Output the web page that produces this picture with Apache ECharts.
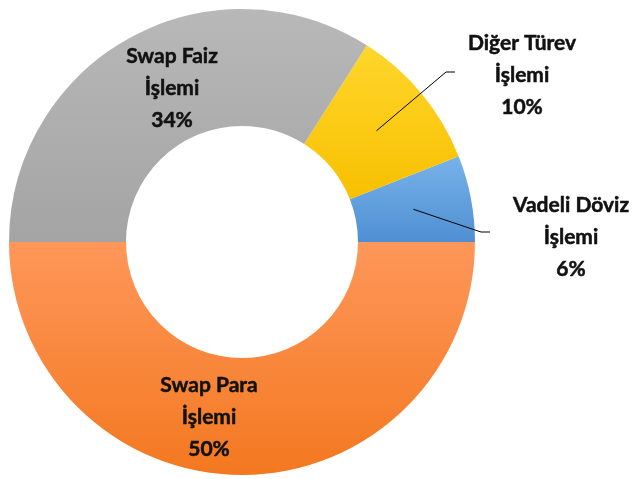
<!DOCTYPE html>
<html>
<head>
<meta charset="utf-8">
<script src="https://cdn.jsdelivr.net/npm/echarts@6/dist/echarts.min.js"></script>
<style>
  html, body { margin: 0; padding: 0; background: #fff; }
  #main { width: 638px; height: 479px; }
</style>
</head>
<body>
<div id="main"></div>
<script>
// veriler (yüzde)
var categories = ['Vadeli Döviz\nİşlemi', 'Diğer Türev\nİşlemi', 'Swap Faiz\nİşlemi', 'Swap Para\nİşlemi'];
var values = [6, 10, 34, 50];

// her dilim için üst/alt degrade renkleri
var topColors = ['#78b2ea', '#ffd62c', '#b8b8b8', '#fe975a'];
var bottomColors = ['#4f8fd2', '#f7c000', '#a4a4a4', '#f37820'];

var cx = 242, cy = 242, rIn = 116, rOut = 233;

// etiket konumları (metin bloğunun merkezi)
var labelPos = [[571, 237], [522, 75], [172, 88], [209, 417]];
// kılavuz çizgisi dirsek ve bitiş noktaları
var elbows = {
    0: [[481, 232], [490, 232]],
    1: [[446, 72], [455, 72]]
};

var total = values.reduce(function (a, b) { return a + b; }, 0);
function midAngle(idx) {
    var acc = 0;
    for (var i = 0; i < idx; i++) acc += values[i];
    return ((acc + values[idx] / 2) / total) * 2 * Math.PI;
}

// kılavuz çizgileri: dilimin orta noktasından etikete
var leaderLines = Object.keys(elbows).map(function (k) {
    var i = +k;
    var a = midAngle(i);
    var rm = (rIn + rOut) / 2;
    var start = [cx + rm * Math.cos(a), cy - rm * Math.sin(a)];
    return {
        type: 'polyline',
        z: 10,
        shape: { points: [start, elbows[i][0], elbows[i][1]] },
        style: { stroke: '#000000', lineWidth: 1, fill: null }
    };
});

var myChart = echarts.init(document.getElementById('main'));

var option = {
    backgroundColor: '#ffffff',
    animation: false,
    graphic: leaderLines,
    series: [
        {
            type: 'pie',
            center: [cx, cy],
            radius: [rIn, rOut],
            startAngle: 0,
            clockwise: false,
            data: categories.map(function (name, i) {
                return {
                    name: name,
                    value: values[i],
                    itemStyle: {
                        color: new echarts.graphic.LinearGradient(0, 0, 0, 1, [
                            { offset: 0, color: topColors[i] },
                            { offset: 1, color: bottomColors[i] }
                        ])
                    }
                };
            }),
            itemStyle: { borderWidth: 0 },
            label: {
                show: true,
                position: 'inside',
                formatter: function (p) { return p.name + '\n' + p.value + '%'; },
                fontFamily: 'Lato',
                fontWeight: 'bold',
                fontSize: 21,
                lineHeight: 32,
                color: '#111111',
                textBorderColor: '#111111',
                textBorderWidth: 0.5,
                align: 'center',
                overflow: 'none'
            },
            labelLine: { show: false },
            labelLayout: function (params) {
                var i = params.dataIndex;
                return {
                    x: labelPos[i][0],
                    y: labelPos[i][1],
                    align: 'center',
                    verticalAlign: 'middle'
                };
            }
        }
    ]
};

myChart.setOption(option);
</script>
</body>
</html>
